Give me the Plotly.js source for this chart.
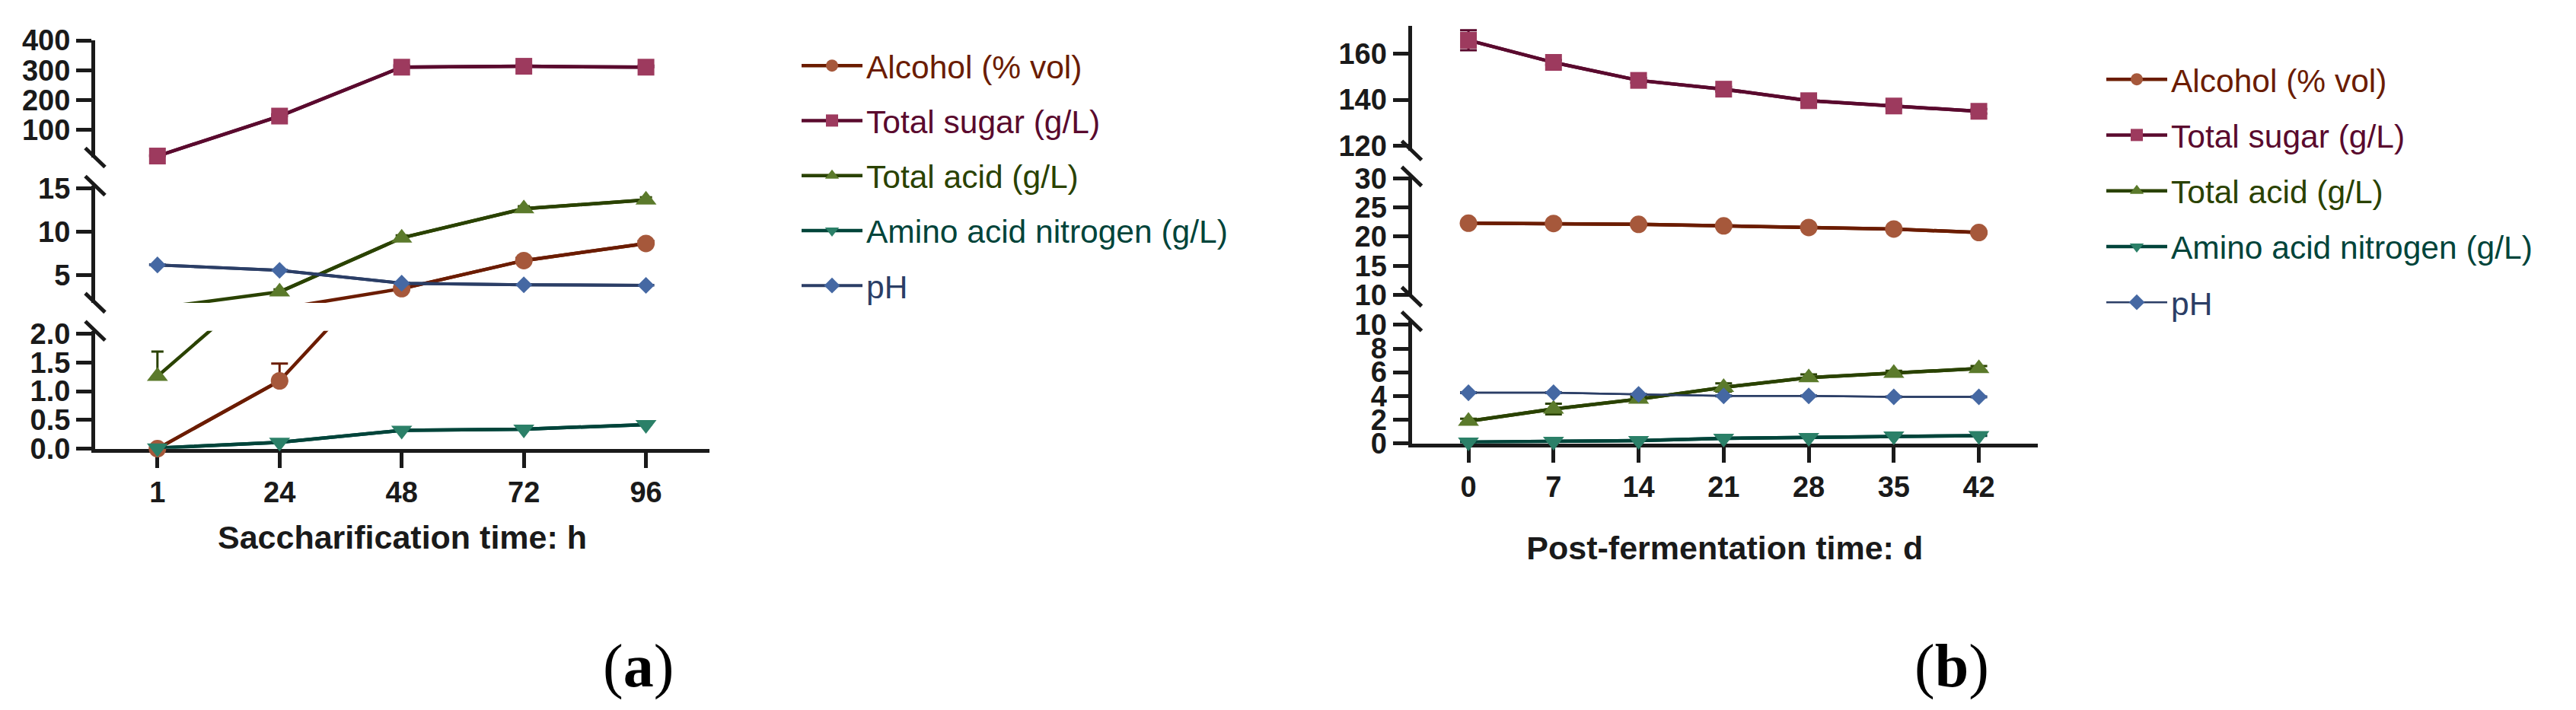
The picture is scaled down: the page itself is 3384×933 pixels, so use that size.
<!DOCTYPE html>
<html>
<head>
<meta charset="utf-8">
<script src="https://cdn.plot.ly/plotly-3.0.1.min.js"></script>
<style>
  html, body { margin: 0; padding: 0; background: #fff; }
  #graph { width: 3384px; height: 933px; }
</style>
</head>
<body>
<div id="graph"></div>
<script>
// Константы
const GRAPH_ELEM_ID = "graph";
const W = 3384;
const H = 933;
const AXIS_COLOR = "#1a1a1a";
const SANS = "Liberation Sans, Arial, sans-serif";

// Данные (a): осахаривание
const timeA = ["1", "24", "48", "72", "96"];
const alcoholA = [0.0, 1.18, 3.47, 6.7, 8.66];
const alcoholErrA = [0.02, 0.3, 0.25, 0.3, 0.3];
const sugarA = [12, 146, 310, 313, 310];
const sugarErrA = [2, 6, 6, 5, 5];
const acidA = [1.26, 3.1, 9.3, 12.65, 13.66];
const acidErrA = [0.43, 0.3, 0.3, 0.3, 0.3];
const aminoA = [0.01, 0.11, 0.32, 0.34, 0.42];
const aminoErrA = [0.01, 0.02, 0.02, 0.02, 0.02];
const phA = [6.2, 5.58, 4.1, 3.92, 3.85];
const phErrA = [0.05, 0.05, 0.05, 0.05, 0.05];

// Данные (b): дображивание
const timeB = [0, 7, 14, 21, 28, 35, 42];
const alcoholB = [22.3, 22.25, 22.1, 21.84, 21.56, 21.3, 20.7];
const alcoholErrB = [0.2, 0.2, 0.2, 0.2, 0.2, 0.2, 0.2];
const sugarB = [165.8, 156.2, 148.4, 144.6, 139.6, 137.3, 135.0];
const sugarErrB = [4.3, 1, 1, 1, 1, 1, 1];
const acidB = [1.87, 2.9, 3.73, 4.72, 5.55, 5.92, 6.32];
const acidErrB = [0.2, 0.45, 0.2, 0.35, 0.27, 0.2, 0.2];
const aminoB = [0.1, 0.16, 0.22, 0.42, 0.48, 0.61, 0.65];
const aminoErrB = [0.03, 0.03, 0.03, 0.03, 0.03, 0.03, 0.03];
const phB = [4.27, 4.27, 4.13, 4.0, 4.0, 3.92, 3.92];
const phErrB = [0.03, 0.03, 0.03, 0.03, 0.03, 0.03, 0.03];

// Подписи
const seriesNames = [
  "Alcohol (% vol)",
  "Total sugar (g/L)",
  "Total acid (g/L)",
  "Amino acid nitrogen (g/L)",
  "pH",
];
const yTicksTopA = [100, 200, 300, 400];
const yTicksMidA = [5, 10, 15];
const yTicksBottomA = [0, 0.5, 1, 1.5, 2];
const yTicksTopB = [120, 140, 160];
const yTicksMidB = [10, 15, 20, 25, 30];
const yTicksBottomB = [0, 2, 4, 6, 8, 10];

// Стили серий
const lineColors = ["#6b1c00", "#5a0a2e", "#2a4200", "#00443a", "#2b3e66"];
const fillColors = ["#a6583b", "#9d3a5e", "#5b7a2b", "#2b8068", "#4568a3"];
const symbols = ["circle", "square", "triangle-up", "triangle-down", "diamond"];
const markerSizes = [23, 22, 24, 24, 17];

// Пиксели -> доли листа
const px = (v) => v / W;
const py = (v) => 1 - v / H;

// Сегменты оси Y (разрыв оси), пиксели от верха картинки
const segmentsA = [
  { id: "y", range: [7, 400], top: 53, bottom: 207, tickvals: yTicksTopA },
  { id: "y2", range: [1.85, 15.3], top: 244, bottom: 397.9, tickvals: yTicksMidA },
  { id: "y3", range: [0, 2.05], top: 434.8, bottom: 589.6, tickvals: yTicksBottomA, format: ".1f" },
];
const segmentsB = [
  { id: "y4", range: [118, 172], top: 34.1, bottom: 197.8, tickvals: yTicksTopB },
  { id: "y5", range: [9.7, 30.3], top: 231.9, bottom: 389.9, tickvals: yTicksMidB },
  { id: "y6", range: [0, 10.3], top: 422.3, bottom: 582.5, tickvals: yTicksBottomB },
];

const panels = [
  {
    key: "a",
    x: timeA,
    xaxis: "x",
    xLeft: 125,
    legend: "legend",
    segments: segmentsA,
    upperOnly: true,
    series: [
      { values: alcoholA, errors: alcoholErrA, seg: [1, 2], width: 4.5 },
      { values: sugarA, errors: sugarErrA, seg: [0], width: 4.5 },
      { values: acidA, errors: acidErrA, seg: [1, 2], width: 4.5 },
      { values: aminoA, errors: aminoErrA, seg: [2], width: 4.5 },
      { values: phA, errors: phErrA, seg: [1], width: 4 },
    ],
  },
  {
    key: "b",
    x: timeB,
    xaxis: "x2",
    xLeft: 1854.5,
    legend: "legend2",
    segments: segmentsB,
    upperOnly: false,
    series: [
      { values: alcoholB, errors: alcoholErrB, seg: [1], width: 4.5 },
      { values: sugarB, errors: sugarErrB, seg: [0], width: 4.5 },
      { values: acidB, errors: acidErrB, seg: [2], width: 4.5 },
      { values: aminoB, errors: aminoErrB, seg: [2], width: 4.5 },
      { values: phB, errors: phErrB, seg: [2], width: 2.5 },
    ],
  },
];

/**
 * @description Линии и маркеры одной серии на заданных сегментах оси
 */
function buildSeriesTraces(panel, s, idx) {
  const traces = [];
  const group = `${panel.key}-${idx}`;
  const isTriangle = symbols[idx].startsWith("triangle");

  s.seg.forEach((segIdx, k) => {
    const seg = panel.segments[segIdx];

    // линия целиком, обрезается областью сегмента
    traces.push({
      type: "scatter",
      mode: "lines",
      x: panel.x,
      y: s.values,
      xaxis: panel.xaxis,
      yaxis: seg.id,
      line: { color: lineColors[idx], width: s.width },
      legendgroup: group,
      showlegend: false,
      hoverinfo: "skip",
    });

    // маркеры только для точек внутри сегмента
    const inside = s.values.map((v) =>
      v >= seg.range[0] && v <= seg.range[1] ? v : null
    );

    const errorY = {
      type: "data",
      array: s.errors,
      symmetric: !panel.upperOnly,
      color: lineColors[idx],
      thickness: 3,
      width: isTriangle && panel.upperOnly ? 8 : 11,
    };
    if (panel.upperOnly) {
      errorY.arrayminus = s.errors.map(() => 0);
    }

    traces.push({
      type: "scatter",
      mode: "lines+markers",
      x: panel.x,
      y: inside,
      xaxis: panel.xaxis,
      yaxis: seg.id,
      line: { color: lineColors[idx], width: s.width },
      marker: { symbol: symbols[idx], size: markerSizes[idx], color: fillColors[idx], line: { width: 0 } },
      error_y: errorY,
      cliponaxis: false,
      name: `<span style="color:${lineColors[idx]}">${seriesNames[idx]}</span>`,
      legend: panel.legend,
      legendgroup: group,
      showlegend: k === 0,
    });
  });

  return traces;
}

// Общий стиль осей
const axisStyle = {
  showline: true,
  linewidth: 5,
  linecolor: AXIS_COLOR,
  ticks: "outside",
  ticklen: 20,
  tickwidth: 5,
  tickcolor: AXIS_COLOR,
  showgrid: false,
  zeroline: false,
  fixedrange: true,
  layer: "below traces",
  tickfont: { family: SANS, size: 38, weight: "bold", color: AXIS_COLOR },
};

const legendStyle = {
  xanchor: "left",
  yanchor: "top",
  bgcolor: "rgba(0,0,0,0)",
  font: { family: SANS, size: 42.5, color: AXIS_COLOR },
  traceorder: "grouped",
  itemwidth: 80,
};

const panelLabelFont = { family: "Liberation Serif, Times New Roman, serif", size: 80, color: "#000" };

let data = [];
let shapes = [];

const layout = {
  width: W,
  height: H,
  margin: { l: 0, r: 0, t: 0, b: 0 },
  paper_bgcolor: "#fff",
  plot_bgcolor: "rgba(0,0,0,0)",
  showlegend: true,
  xaxis: {
    ...axisStyle,
    type: "category",
    domain: [px(125), px(932)],
    range: [-0.51, 4.52],
    anchor: "y3",
    title: {
      text: "Saccharification time: h",
      font: { family: SANS, size: 43, weight: "bold", color: AXIS_COLOR },
      standoff: 25,
    },
  },
  xaxis2: {
    ...axisStyle,
    domain: [px(1854.5), px(2677)],
    range: [-4.67, 46.85],
    tickmode: "array",
    tickvals: timeB,
    anchor: "y6",
    title: {
      text: "Post-fermentation time: d",
      font: { family: SANS, size: 43, weight: "bold", color: AXIS_COLOR },
      standoff: 46,
    },
  },
  legend: { ...legendStyle, x: px(1048), y: py(52), tracegroupgap: 14 },
  legend2: { ...legendStyle, x: px(2762), y: py(70), tracegroupgap: 15 },
  annotations: [
    {
      text: "(<b>a</b>)",
      xref: "paper",
      yref: "paper",
      x: px(838),
      y: py(875),
      xanchor: "center",
      yanchor: "middle",
      showarrow: false,
      font: panelLabelFont,
    },
    {
      text: "(<b>b</b>)",
      xref: "paper",
      yref: "paper",
      x: px(2564),
      y: py(875),
      xanchor: "center",
      yanchor: "middle",
      showarrow: false,
      font: panelLabelFont,
    },
  ],
};

/**
 * @description Косая черта разрыва оси
 */
function breakMark(xPix, yPix) {
  return {
    type: "line",
    xref: "paper",
    yref: "paper",
    x0: px(xPix - 13),
    y0: py(yPix - 12.5),
    x1: px(xPix + 13),
    y1: py(yPix + 12.5),
    line: { color: AXIS_COLOR, width: 5 },
  };
}

for (const panel of panels) {
  const last = panel.segments.length - 1;

  panel.segments.forEach((seg, i) => {
    const name = seg.id === "y" ? "yaxis" : "yaxis" + seg.id.slice(1);
    layout[name] = {
      ...axisStyle,
      domain: [py(seg.bottom), py(seg.top)],
      range: seg.range,
      anchor: panel.xaxis,
      tickmode: "array",
      tickvals: seg.tickvals,
      tickformat: seg.format || "",
    };

    if (i > 0) shapes.push(breakMark(panel.xLeft, seg.top));
    if (i < last) shapes.push(breakMark(panel.xLeft, seg.bottom));
  });

  panel.series.forEach((s, idx) => {
    data = data.concat(buildSeriesTraces(panel, s, idx));
  });
}

layout.shapes = shapes;

Plotly.newPlot(GRAPH_ELEM_ID, data, layout, { displayModeBar: false, staticPlot: true });
</script>
</body>
</html>
